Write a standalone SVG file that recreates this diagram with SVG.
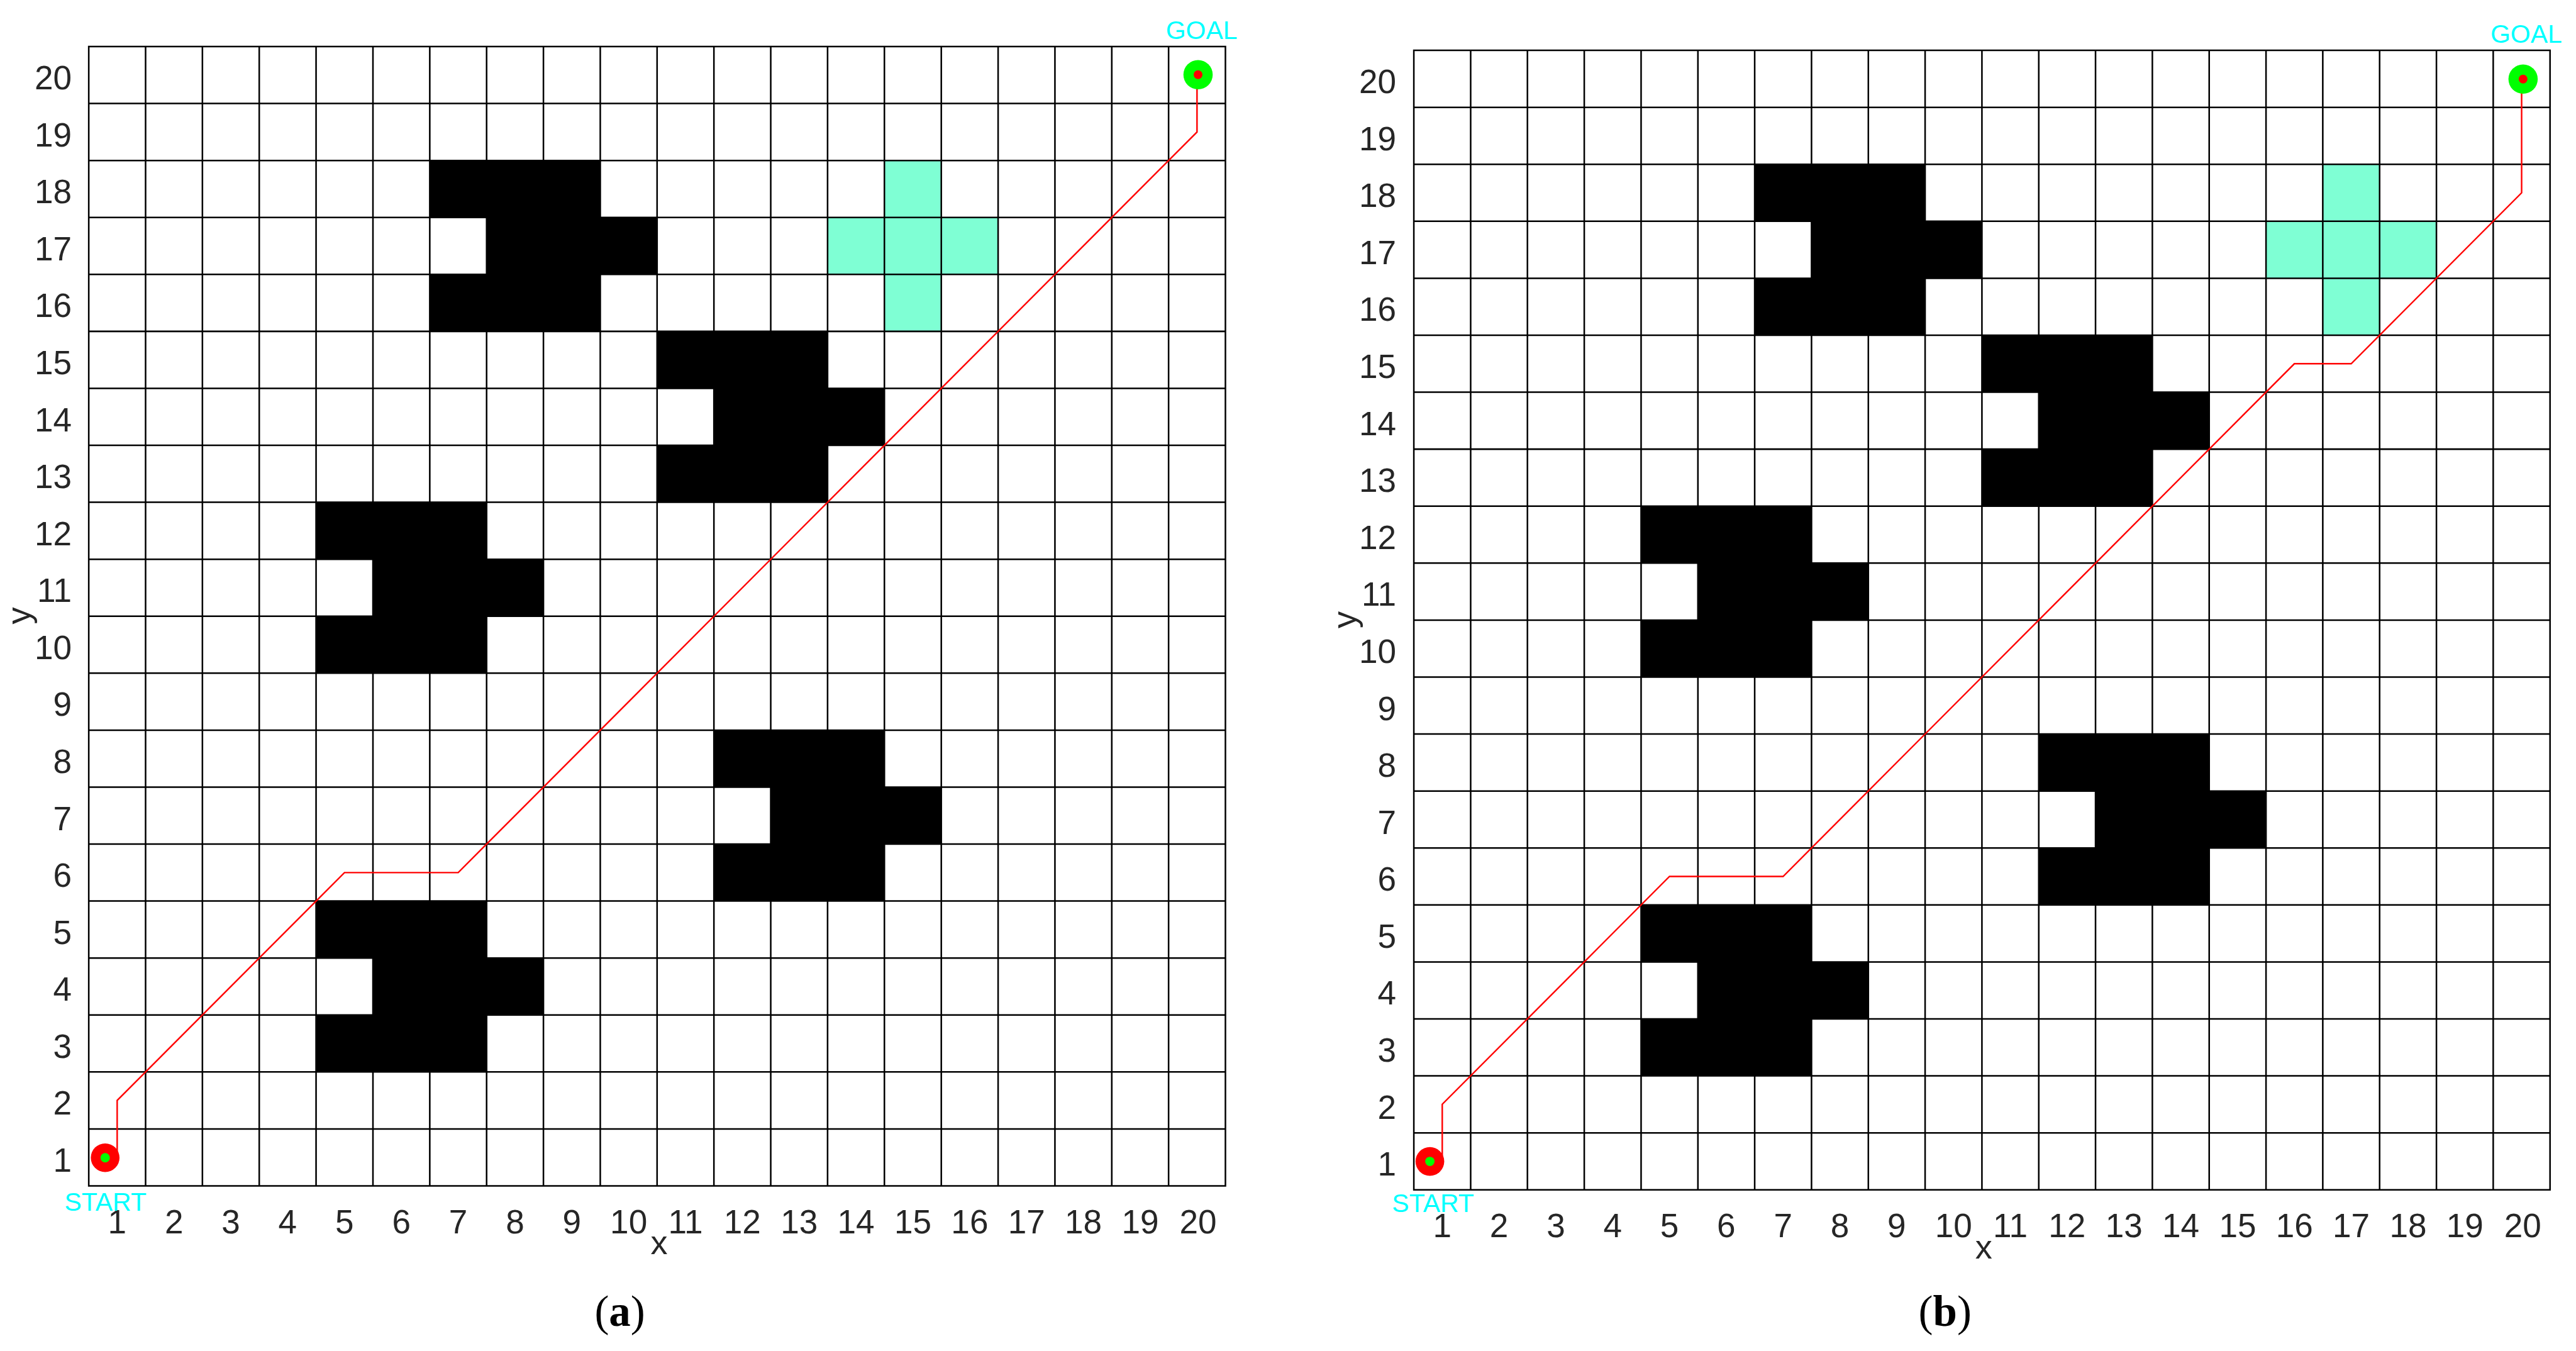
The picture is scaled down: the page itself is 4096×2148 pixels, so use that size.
<svg xmlns="http://www.w3.org/2000/svg" width="4096" height="2148" viewBox="0 0 4096 2148">
<style>
.obs{fill:#000}
.cross{fill:#7FFFD4}
.grid{fill:none;stroke:#000;stroke-width:2.7;stroke-linecap:square}
.route{fill:none;stroke:#FF0000;stroke-width:2.6;stroke-linejoin:miter}
.tick{font-family:"Liberation Sans",Arial,Helvetica,sans-serif;font-size:57px;fill:#262626}
.ty{text-anchor:end}
.tx{text-anchor:middle}
.axl{font-family:"Liberation Sans",Arial,Helvetica,sans-serif;font-size:58px;fill:#262626;text-anchor:middle}
.lbl{font-family:"Liberation Sans",Arial,Helvetica,sans-serif;font-size:44px;fill:#00FFFF}
.cap{font-family:"Liberation Serif","Times New Roman",serif;font-size:74px;fill:#000;text-anchor:middle}
</style>
<rect width="4096" height="2148" fill="#fff"/>
<g transform="scale(0.93154)">
<!-- Panel A -->
<g id="panel-a">
<g id="a-obstacles">
<polygon class="obs" points="733.6,274 1024.6,274 1024.6,371.2 1121.6,371.2 1121.6,468.4 1024.6,468.4 1024.6,565.6 733.6,565.6 733.6,468.4 830.6,468.4 830.6,371.2 733.6,371.2"/>
<polygon class="obs" points="1121.6,565.6 1412.6,565.6 1412.6,662.9 1509.6,662.9 1509.6,760.1 1412.6,760.1 1412.6,857.3 1121.6,857.3 1121.6,760.1 1218.6,760.1 1218.6,662.9 1121.6,662.9"/>
<polygon class="obs" points="539.5,857.3 830.6,857.3 830.6,954.5 927.6,954.5 927.6,1051.8 830.6,1051.8 830.6,1149 539.5,1149 539.5,1051.8 636.6,1051.8 636.6,954.5 539.5,954.5"/>
<polygon class="obs" points="1218.6,1246.2 1509.6,1246.2 1509.6,1343.4 1606.7,1343.4 1606.7,1440.7 1509.6,1440.7 1509.6,1537.9 1218.6,1537.9 1218.6,1440.7 1315.6,1440.7 1315.6,1343.4 1218.6,1343.4"/>
<polygon class="obs" points="539.5,1537.9 830.6,1537.9 830.6,1635.1 927.6,1635.1 927.6,1732.3 830.6,1732.3 830.6,1829.6 539.5,1829.6 539.5,1732.3 636.6,1732.3 636.6,1635.1 539.5,1635.1"/>
</g>
<polygon id="a-cross" class="cross" points="1509.6,274 1606.7,274 1606.7,371.2 1703.7,371.2 1703.7,468.4 1606.7,468.4 1606.7,565.6 1509.6,565.6 1509.6,468.4 1412.6,468.4 1412.6,371.2 1509.6,371.2"/>
<path id="a-grid" class="grid" d="M151.5,79.5V2024M248.5,79.5V2024M345.5,79.5V2024M442.5,79.5V2024M539.5,79.5V2024M636.6,79.5V2024M733.6,79.5V2024M830.6,79.5V2024M927.6,79.5V2024M1024.6,79.5V2024M1121.6,79.5V2024M1218.6,79.5V2024M1315.6,79.5V2024M1412.6,79.5V2024M1509.6,79.5V2024M1606.7,79.5V2024M1703.7,79.5V2024M1800.7,79.5V2024M1897.7,79.5V2024M1994.7,79.5V2024M2091.7,79.5V2024M151.5,79.5H2091.7M151.5,176.7H2091.7M151.5,274H2091.7M151.5,371.2H2091.7M151.5,468.4H2091.7M151.5,565.6H2091.7M151.5,662.9H2091.7M151.5,760.1H2091.7M151.5,857.3H2091.7M151.5,954.5H2091.7M151.5,1051.8H2091.7M151.5,1149H2091.7M151.5,1246.2H2091.7M151.5,1343.4H2091.7M151.5,1440.7H2091.7M151.5,1537.9H2091.7M151.5,1635.1H2091.7M151.5,1732.3H2091.7M151.5,1829.6H2091.7M151.5,1926.8H2091.7M151.5,2024H2091.7"/>
<g id="a-yticks" class="tick ty">
<text x="122.5" y="1999.9">1</text><text x="122.5" y="1902.7">2</text><text x="122.5" y="1805.5">3</text><text x="122.5" y="1708.2">4</text><text x="122.5" y="1611">5</text><text x="122.5" y="1513.8">6</text><text x="122.5" y="1416.5">7</text><text x="122.5" y="1319.3">8</text><text x="122.5" y="1222.1">9</text><text x="122.5" y="1124.9">10</text><text x="122.5" y="1027.6">11</text><text x="122.5" y="930.4">12</text><text x="122.5" y="833.2">13</text><text x="122.5" y="736">14</text><text x="122.5" y="638.7">15</text><text x="122.5" y="541.5">16</text><text x="122.5" y="444.3">17</text><text x="122.5" y="347">18</text><text x="122.5" y="249.8">19</text><text x="122.5" y="152.6">20</text>
</g>
<g id="a-xticks" class="tick tx">
<text x="200" y="2105">1</text><text x="297" y="2105">2</text><text x="394" y="2105">3</text><text x="491" y="2105">4</text><text x="588" y="2105">5</text><text x="685.1" y="2105">6</text><text x="782.1" y="2105">7</text><text x="879.1" y="2105">8</text><text x="976.1" y="2105">9</text><text x="1073.1" y="2105">10</text><text x="1170.1" y="2105">11</text><text x="1267.1" y="2105">12</text><text x="1364.1" y="2105">13</text><text x="1461.1" y="2105">14</text><text x="1558.2" y="2105">15</text><text x="1655.2" y="2105">16</text><text x="1752.2" y="2105">17</text><text x="1849.2" y="2105">18</text><text x="1946.2" y="2105">19</text><text x="2045" y="2105">20</text>
</g>
<text class="axl" x="1125" y="2141">x</text>
<text class="axl" transform="translate(52,1051) rotate(-90)">y</text>
<text class="cap" x="1058" y="2263">(<tspan font-weight="bold">a</tspan>)</text>
</g>
<!-- Panel B -->
<g id="panel-b">
<g id="b-obstacles">
<polygon class="obs" points="2995.1,280.5 3286,280.5 3286,377.7 3383,377.7 3383,474.9 3286,474.9 3286,572.2 2995.1,572.2 2995.1,474.9 3092.1,474.9 3092.1,377.7 2995.1,377.7"/>
<polygon class="obs" points="3383,572.2 3673.9,572.2 3673.9,669.4 3770.9,669.4 3770.9,766.6 3673.9,766.6 3673.9,863.9 3383,863.9 3383,766.6 3480,766.6 3480,669.4 3383,669.4"/>
<polygon class="obs" points="2801.2,863.9 3092.1,863.9 3092.1,961.1 3189.1,961.1 3189.1,1058.4 3092.1,1058.4 3092.1,1155.6 2801.2,1155.6 2801.2,1058.4 2898.2,1058.4 2898.2,961.1 2801.2,961.1"/>
<polygon class="obs" points="3480,1252.8 3770.9,1252.8 3770.9,1350.1 3867.9,1350.1 3867.9,1447.3 3770.9,1447.3 3770.9,1544.5 3480,1544.5 3480,1447.3 3576.9,1447.3 3576.9,1350.1 3480,1350.1"/>
<polygon class="obs" points="2801.2,1544.5 3092.1,1544.5 3092.1,1641.8 3189.1,1641.8 3189.1,1739 3092.1,1739 3092.1,1836.2 2801.2,1836.2 2801.2,1739 2898.2,1739 2898.2,1641.8 2801.2,1641.8"/>
</g>
<polygon id="b-cross" class="cross" points="3964.8,280.5 4061.8,280.5 4061.8,377.7 4158.8,377.7 4158.8,474.9 4061.8,474.9 4061.8,572.2 3964.8,572.2 3964.8,474.9 3867.9,474.9 3867.9,377.7 3964.8,377.7"/>
<path id="b-grid" class="grid" d="M2413.3,86V2030.7M2510.3,86V2030.7M2607.2,86V2030.7M2704.2,86V2030.7M2801.2,86V2030.7M2898.2,86V2030.7M2995.1,86V2030.7M3092.1,86V2030.7M3189.1,86V2030.7M3286,86V2030.7M3383,86V2030.7M3480,86V2030.7M3576.9,86V2030.7M3673.9,86V2030.7M3770.9,86V2030.7M3867.9,86V2030.7M3964.8,86V2030.7M4061.8,86V2030.7M4158.8,86V2030.7M4255.7,86V2030.7M4352.7,86V2030.7M2413.3,86H4352.7M2413.3,183.2H4352.7M2413.3,280.5H4352.7M2413.3,377.7H4352.7M2413.3,474.9H4352.7M2413.3,572.2H4352.7M2413.3,669.4H4352.7M2413.3,766.6H4352.7M2413.3,863.9H4352.7M2413.3,961.1H4352.7M2413.3,1058.4H4352.7M2413.3,1155.6H4352.7M2413.3,1252.8H4352.7M2413.3,1350.1H4352.7M2413.3,1447.3H4352.7M2413.3,1544.5H4352.7M2413.3,1641.8H4352.7M2413.3,1739H4352.7M2413.3,1836.2H4352.7M2413.3,1933.5H4352.7M2413.3,2030.7H4352.7"/>
<g id="b-yticks" class="tick ty">
<text x="2383.3" y="2006.6">1</text><text x="2383.3" y="1909.3">2</text><text x="2383.3" y="1812.1">3</text><text x="2383.3" y="1714.9">4</text><text x="2383.3" y="1617.6">5</text><text x="2383.3" y="1520.4">6</text><text x="2383.3" y="1423.2">7</text><text x="2383.3" y="1325.9">8</text><text x="2383.3" y="1228.7">9</text><text x="2383.3" y="1131.5">10</text><text x="2383.3" y="1034.2">11</text><text x="2383.3" y="937">12</text><text x="2383.3" y="839.8">13</text><text x="2383.3" y="742.5">14</text><text x="2383.3" y="645.3">15</text><text x="2383.3" y="548">16</text><text x="2383.3" y="450.8">17</text><text x="2383.3" y="353.6">18</text><text x="2383.3" y="256.3">19</text><text x="2383.3" y="159.1">20</text>
</g>
<g id="b-xticks" class="tick tx">
<text x="2461.8" y="2111.7">1</text><text x="2558.7" y="2111.7">2</text><text x="2655.7" y="2111.7">3</text><text x="2752.7" y="2111.7">4</text><text x="2849.7" y="2111.7">5</text><text x="2946.6" y="2111.7">6</text><text x="3043.6" y="2111.7">7</text><text x="3140.6" y="2111.7">8</text><text x="3237.5" y="2111.7">9</text><text x="3334.5" y="2111.7">10</text><text x="3431.5" y="2111.7">11</text><text x="3528.4" y="2111.7">12</text><text x="3625.4" y="2111.7">13</text><text x="3722.4" y="2111.7">14</text><text x="3819.4" y="2111.7">15</text><text x="3916.3" y="2111.7">16</text><text x="4013.3" y="2111.7">17</text><text x="4110.3" y="2111.7">18</text><text x="4207.2" y="2111.7">19</text><text x="4306" y="2111.7">20</text>
</g>
<text class="axl" x="3386" y="2148">x</text>
<text class="axl" transform="translate(2314,1058) rotate(-90)">y</text>
<text class="cap" x="3320" y="2263">(<tspan font-weight="bold">b</tspan>)</text>
</g>
<!-- Connectors: planned routes -->
<g id="connectors">
<polyline id="a-route" class="route" points="200,1975.4 200,1878.2 588,1489.3 782.1,1489.3 2043.2,225.3 2043.2,128.1"/>
<polyline id="b-route" class="route" points="2461.8,1982.1 2461.8,1884.8 2849.7,1495.9 3043.6,1495.9 3916.3,620.8 4013.3,620.8 4304.2,329.1 4304.2,134.6"/>
</g>
<!-- Start / goal markers -->
<g id="a-start">
<circle cx="179.5" cy="1976" r="24.5" fill="#FF0000"/>
<circle cx="179.5" cy="1976" r="8" fill="#00FF00"/>
<text class="lbl" x="110" y="2067">START</text>
</g>
<g id="a-goal">
<circle cx="2045" cy="127.5" r="25" fill="#00FF00"/>
<circle cx="2045" cy="127.5" r="7.5" fill="#FF0000"/>
<text class="lbl" x="1990" y="66.5">GOAL</text>
</g>
<g id="b-start">
<circle cx="2440.7" cy="1982.3" r="24.5" fill="#FF0000"/>
<circle cx="2440.7" cy="1982.3" r="8" fill="#00FF00"/>
<text class="lbl" x="2376" y="2069">START</text>
</g>
<g id="b-goal">
<circle cx="4306.7" cy="135" r="25" fill="#00FF00"/>
<circle cx="4306.7" cy="135" r="7.5" fill="#FF0000"/>
<text class="lbl" x="4251" y="73">GOAL</text>
</g>
</g>
</svg>
